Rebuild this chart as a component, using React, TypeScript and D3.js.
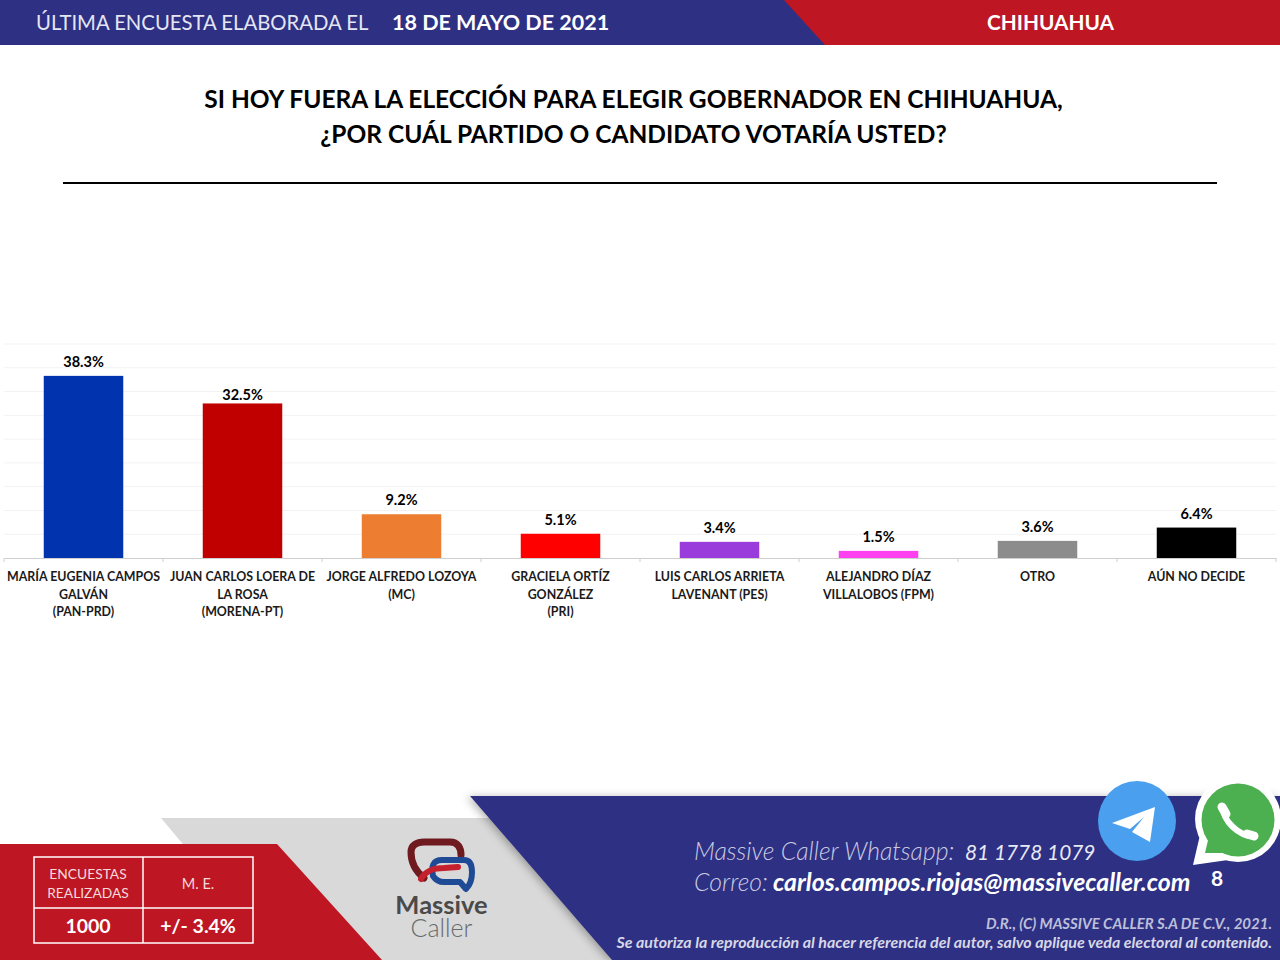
import { useEffect, useRef } from "react";
import * as d3 from "d3";

const WIDTH = 1280;
const HEIGHT = 960;
const FONT = "Lato, 'Open Sans', sans-serif";

const candidates = ["campos", "loera", "lozoya", "ortiz", "arrieta", "diaz", "otro", "noDecide"];
const values = [38.3, 32.5, 9.2, 5.1, 3.4, 1.5, 3.6, 6.4];
const barColors = ["#0033AD", "#C00000", "#ED7D31", "#FF0000", "#9A3BDC", "#FF40F0", "#8C8C8C", "#000000"];
const tickLabels = [
  ["MARÍA EUGENIA CAMPOS", "GALVÁN", "(PAN-PRD)"],
  ["JUAN CARLOS LOERA DE", "LA ROSA", "(MORENA-PT)"],
  ["JORGE ALFREDO LOZOYA", "(MC)"],
  ["GRACIELA ORTÍZ", "GONZÁLEZ", "(PRI)"],
  ["LUIS CARLOS ARRIETA", "LAVENANT (PES)"],
  ["ALEJANDRO DÍAZ", "VILLALOBOS (FPM)"],
  ["OTRO"],
  ["AÚN NO DECIDE"],
];
const gridValues = [5, 10, 15, 20, 25, 30, 35, 40, 45];

const NAVY = "#2E3084";
const RED = "#BE1622";

export default function App() {
  const svgRef = useRef<SVGSVGElement>(null);

  useEffect(() => {
    const svg = d3.select(svgRef.current);
    svg.selectAll("*").remove();
    svg.attr("width", WIDTH).attr("height", HEIGHT);

    const label = (
      x: number,
      y: number,
      str: string,
      size: number,
      opts: { fill?: string; weight?: number; anchor?: string; style?: string } = {}
    ) =>
      svg
        .append("text")
        .attr("x", x)
        .attr("y", y)
        .attr("fill", opts.fill ?? "#000")
        .attr("font-size", size)
        .attr("font-weight", opts.weight ?? 400)
        .attr("font-style", opts.style ?? "normal")
        .attr("font-family", FONT)
        .attr("text-anchor", opts.anchor ?? "middle")
        .text(str);

    const poly = (pts: [number, number][], fill: string) =>
      svg.append("polygon").attr("points", pts.map((p) => p.join(",")).join(" ")).attr("fill", fill);

    svg.append("rect").attr("width", WIDTH).attr("height", HEIGHT).attr("fill", "#fff");

    // Header band
    poly([[0, 0], [825, 0], [825, 45], [0, 45]], NAVY);
    poly([[784, 0], [1280, 0], [1280, 45], [825, 45]], RED);
    label(36, 30, "ÚLTIMA ENCUESTA ELABORADA EL", 20.3, { fill: "#E4E6F2", anchor: "start" });
    label(392, 30, "18 DE MAYO DE 2021", 21.5, { fill: "#fff", anchor: "start", weight: 700 });
    label(1050.5, 30, "CHIHUAHUA", 20.8, { fill: "#fff", weight: 700 });

    // Title
    label(633.5, 108, "SI HOY FUERA LA ELECCIÓN PARA ELEGIR GOBERNADOR EN CHIHUAHUA,", 24.5, { weight: 700 });
    label(633.5, 143, "¿POR CUÁL PARTIDO O CANDIDATO VOTARÍA USTED?", 24.5, { weight: 700 });
    svg.append("line").attr("x1", 63).attr("x2", 1217).attr("y1", 183).attr("y2", 183).attr("stroke", "#000").attr("stroke-width", 2);

    // Chart
    const x = d3.scaleBand<string>().domain(candidates).range([4, 1276]).paddingInner(0.5).paddingOuter(0.25);
    const y = d3.scaleLinear().domain([0, 45]).range([558, 344]);

    svg
      .append("g")
      .selectAll("line")
      .data(gridValues)
      .enter()
      .append("line")
      .attr("x1", 4)
      .attr("x2", 1276)
      .attr("y1", (d) => y(d))
      .attr("y2", (d) => y(d))
      .attr("stroke", "#F2F2F2")
      .attr("stroke-width", 1);

    svg
      .append("g")
      .selectAll("rect")
      .data(candidates)
      .enter()
      .append("rect")
      .attr("x", (d) => x(d) as number)
      .attr("y", (_, i) => y(values[i]))
      .attr("width", x.bandwidth())
      .attr("height", (_, i) => y(0) - y(values[i]))
      .attr("fill", (_, i) => barColors[i]);

    // Baseline with category ticks
    const step = x.step();
    const axis = d3
      .axisBottom(x)
      .tickSize(0)
      .tickFormat(() => "");
    const axisG = svg.append("g").attr("transform", `translate(0,${y(0)})`).call(axis);
    axisG.select(".domain").attr("stroke", "#CFCFCF").attr("stroke-width", 1);
    d3.range(candidates.length + 1).forEach((i) => {
      const tx = 4 + i * step;
      axisG.append("line").attr("x1", tx).attr("x2", tx).attr("y1", 0).attr("y2", 4).attr("stroke", "#CFCFCF");
    });

    candidates.forEach((c, i) => {
      const cx = (x(c) as number) + x.bandwidth() / 2;
      // the second label sits almost on its bar in the source
      const gap = i === 1 ? 3 : 9;
      label(cx, y(values[i]) - gap, `${values[i].toFixed(1)}%`, 14.5, { weight: 700 });
      tickLabels[i].forEach((line, j) => {
        label(cx, 581 + j * 17.5, line, 12.4, { weight: 700, fill: "#1a1a1a" });
      });
    });

    // Footer shapes
    poly([[161, 818], [520, 818], [640, 960], [280, 960]], "#D9D9D9");
    poly([[470, 796], [1280, 796], [1280, 960], [612, 960]], NAVY).style("filter", "drop-shadow(-3px 1px 4px rgba(0,0,0,0.3))");
    poly([[0, 844], [277, 844], [382, 960], [0, 960]], RED);

    // Sample table
    const tbl = svg.append("g").attr("fill", "none").attr("stroke", "#fff").attr("stroke-width", 1.5);
    tbl.append("rect").attr("x", 34).attr("y", 857).attr("width", 219).attr("height", 86);
    tbl.append("line").attr("x1", 34).attr("x2", 253).attr("y1", 908).attr("y2", 908);
    tbl.append("line").attr("x1", 143).attr("x2", 143).attr("y1", 857).attr("y2", 943);
    label(88, 879, "ENCUESTAS", 13.8, { fill: "#F4DADC" });
    label(88, 898, "REALIZADAS", 13.8, { fill: "#F4DADC" });
    label(198, 889, "M. E.", 14.5, { fill: "#F4DADC" });
    label(88, 933, "1000", 19.5, { fill: "#fff", weight: 700 });
    label(198, 933, "+/- 3.4%", 19.5, { fill: "#fff", weight: 700 });

    // Logo
    const logo = svg.append("g").attr("fill", "none").attr("stroke-linecap", "round").attr("stroke-linejoin", "round");
    logo.append("path").attr("d", "M424 878 C414 870 411 862 411 852 C411 845 417 842 424 842 L450 842 C458 842 461 848 461 855").attr("stroke", "#6E1A1E").attr("stroke-width", 7);
    logo.append("path").attr("d", "M433 876 C431 866 433 860 442 860 L464 860 C471 860 472 866 472 872 C472 880 470 885 466 889 L460 882 L444 882 C438 882 435 879 433 876").attr("stroke", "#1F4A96").attr("stroke-width", 6);
    logo.append("path").attr("d", "M421 879 C426 870 434 868 444 868 L458 867").attr("stroke", "#C4202D").attr("stroke-width", 6);
    label(441.5, 914, "Massive", 25.5, { fill: "#4A4A4A", weight: 700 });
    label(441.5, 937, "Caller", 25, { fill: "#6A6A6A", weight: 300 });

    // Contact text
    label(694, 860, "Massive Caller  Whatsapp:", 24.8, { fill: "#C9CBE0", anchor: "start", style: "italic", weight: 300 });
    label(965, 860, "81 1778 1079", 20.8, { fill: "#E8E9F3", anchor: "start", style: "italic" });
    label(694, 891, "Correo:", 24.8, { fill: "#C9CBE0", anchor: "start", style: "italic", weight: 300 });
    label(773, 891, "carlos.campos.riojas@massivecaller.com", 24.8, { fill: "#fff", anchor: "start", style: "italic", weight: 700 });
    label(1272, 929, "D.R., (C) MASSIVE CALLER S.A DE C.V., 2021.", 15, { fill: "#BDBFD8", anchor: "end", style: "italic", weight: 700 });
    label(1272, 948, "Se autoriza la reproducción al hacer referencia del autor, salvo aplique veda electoral al contenido.", 16, { fill: "#D6D7E6", anchor: "end", style: "italic", weight: 700 });

    // Telegram icon
    svg.append("ellipse").attr("cx", 1137).attr("cy", 821).attr("rx", 39).attr("ry", 40).attr("fill", "#4A9FEE");
    svg.append("path").attr("d", "M1155 807 L1112 823 L1130 829 L1144 817 L1132 832 L1150 842 Z").attr("fill", "#fff");

    // WhatsApp icon
    svg.append("circle").attr("cx", 1238).attr("cy", 819).attr("r", 43).attr("fill", "#fff");
    poly([[1193, 865], [1200, 835], [1228, 860]], "#fff");
    svg.append("circle").attr("cx", 1238).attr("cy", 820).attr("r", 36.5).attr("fill", "#4CAF50");
    poly([[1205, 853], [1210, 832], [1226, 853]], "#4CAF50");
    const phone = svg.append("g").attr("fill", "none").attr("stroke", "#fff").attr("stroke-linecap", "round");
    phone.append("path").attr("d", "M1223 808 C1223 820 1238 836 1253 836").attr("stroke-width", 6);
    phone.append("path").attr("d", "M1222 807 L1226 814").attr("stroke-width", 9);
    phone.append("path").attr("d", "M1247 834 L1254 836").attr("stroke-width", 9);
    label(1217, 886, "8", 21, { fill: "#fff", weight: 700 });
  }, []);

  return <svg ref={svgRef} style={{ position: "absolute", left: 0, top: 0, display: "block" }} />;
}
